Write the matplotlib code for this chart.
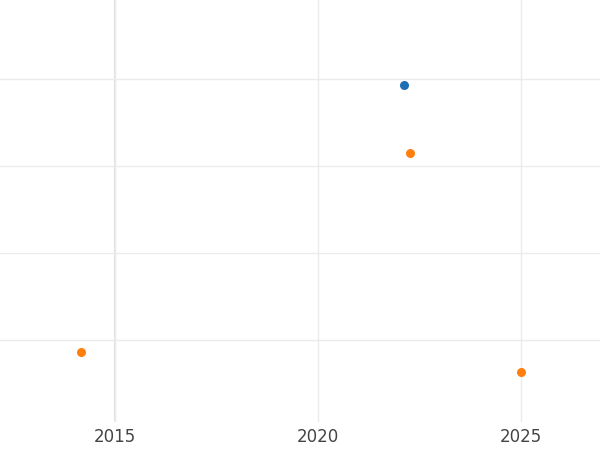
import matplotlib
matplotlib.use("Agg")
import matplotlib.pyplot as plt

# data
blue_x = [2022.12]
blue_y = [3.93]
orange_x = [2022.27, 2014.16, 2025.0]
orange_y = [3.15, 0.86, 0.63]

fig = plt.figure(figsize=(6, 4.5), dpi=100)
ax = fig.add_axes([0, 28 / 450, 1, 1 - 28 / 450])
ax.set_xlim(2012.17, 2026.95)
ax.set_ylim(0.05, 4.91)

ax.set_xticks([2015, 2020, 2025])
ax.set_yticks([1, 2, 3, 4])
ax.set_yticklabels([])
ax.grid(True, color="#ebebeb", linewidth=1)
ax.set_axisbelow(True)
ax.axvline(2015, color="#e0e0e0", linewidth=1.5, zorder=0)
for s in ax.spines.values():
    s.set_visible(False)
ax.tick_params(length=0, labelsize=12, labelcolor="#444444", pad=4)

ax.scatter(blue_x, blue_y, color="#1f6fb4", s=30, zorder=3)
ax.scatter(orange_x, orange_y, color="#ff7f0e", s=30, zorder=3)

fig.savefig("out.png", dpi=100)
